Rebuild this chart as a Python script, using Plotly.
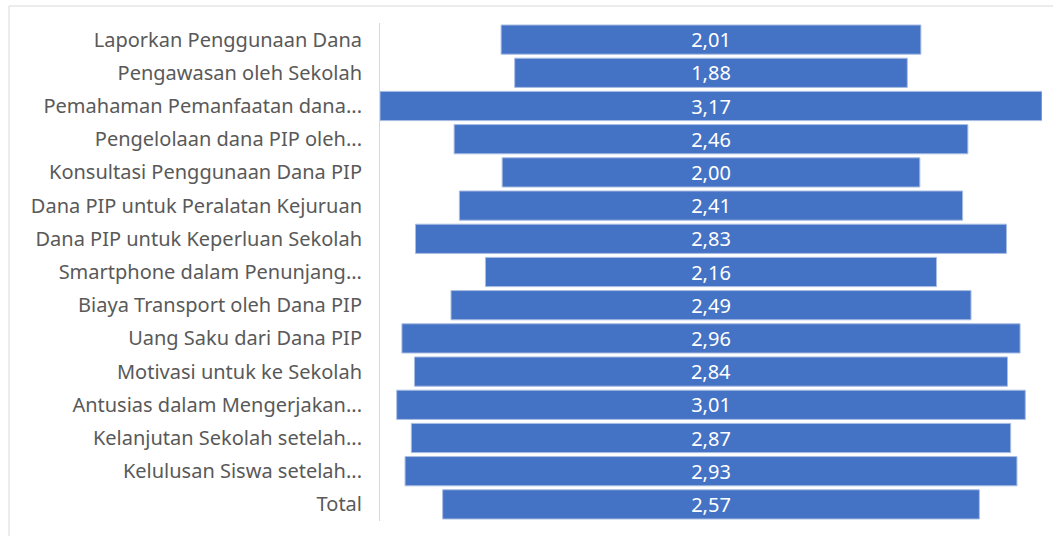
import plotly.graph_objects as go

categories = [
    "Laporkan Penggunaan Dana",
    "Pengawasan oleh Sekolah",
    "Pemahaman Pemanfaatan dana...",
    "Pengelolaan dana PIP oleh...",
    "Konsultasi Penggunaan Dana PIP",
    "Dana PIP untuk Peralatan Kejuruan",
    "Dana PIP untuk Keperluan Sekolah",
    "Smartphone dalam Penunjang...",
    "Biaya Transport oleh Dana PIP",
    "Uang Saku dari Dana PIP",
    "Motivasi untuk ke Sekolah",
    "Antusias dalam Mengerjakan...",
    "Kelanjutan Sekolah setelah...",
    "Kelulusan Siswa setelah...",
    "Total",
]
values = [2.01, 1.88, 3.17, 2.46, 2.00, 2.41, 2.83, 2.16, 2.49, 2.96, 2.84, 3.01, 2.87, 2.93, 2.57]

fig = go.Figure(go.Funnel(
    y=categories,
    x=values,
    texttemplate="%{x:.2f}",
    textposition="inside",
    insidetextanchor="middle",
    constraintext="none",
    textfont=dict(color="white", size=20, family="Noto Sans"),
    marker=dict(color="#4472C4", line=dict(color="#a8bde3", width=1)),
    connector=dict(visible=False),
    hoverinfo="skip",
))

W, H = 1053, 536
l, r, t, b = 380, 11, 23, 15
pw, ph = W - l - r, H - t - b
fig.update_layout(
    width=W, height=H,
    margin=dict(l=l, r=r, t=t, b=b, autoexpand=False),
    paper_bgcolor="white", plot_bgcolor="white",
    separators=",.",
    funnelgap=0.12,
    showlegend=False,
    xaxis=dict(visible=False, range=[-max(values) / 2, max(values) / 2]),
    yaxis=dict(
        showline=True, linecolor="#d9d9d9", linewidth=1,
        showgrid=False, ticks="", ticklabelstandoff=13, automargin=False,
        tickfont=dict(family="Noto Sans", size=20, color="#595959"),
    ),
    shapes=[dict(
        type="rect", xref="paper", yref="paper",
        x0=(9 - l) / pw, x1=1.2, y0=-0.2, y1=1 + (t - 6) / ph,
        line=dict(color="#d9d9d9", width=1), layer="below",
    )],
)

fig.write_html(
    "out.html",
    config={"displayModeBar": False, "staticPlot": True},
    post_script="document.body.style.margin='0';document.body.style.overflow='hidden';",
)
